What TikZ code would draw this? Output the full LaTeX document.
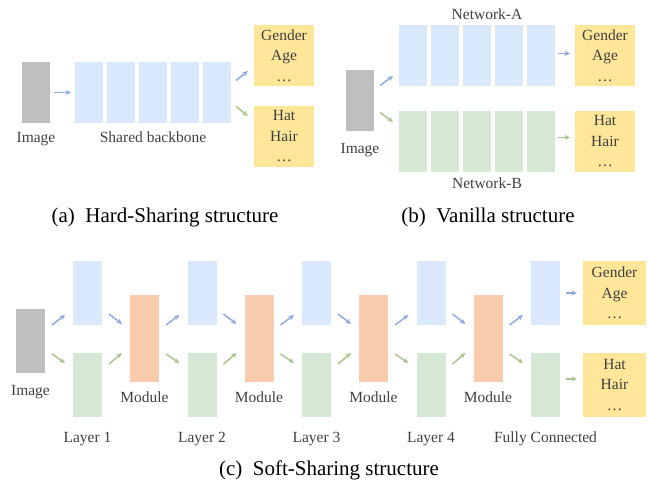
\documentclass[tikz,border=0pt]{standalone}
\usepackage{fontspec}
\setmainfont{Liberation Serif}
\usetikzlibrary{arrows.meta}
\usetikzlibrary{positioning}
\usetikzlibrary{calc}

\definecolor{imggray}{HTML}{BFBFBF}
\definecolor{layblue}{HTML}{DAE8FC}
\definecolor{laygreen}{HTML}{D5E8D4}
\definecolor{modorange}{HTML}{F8CBAD}
\definecolor{taskyellow}{HTML}{FFE699}
\definecolor{arrblue}{HTML}{8FAADC}
\definecolor{arrgreen}{HTML}{A9C48F}
\definecolor{txtgray}{HTML}{404040}

\tikzset{
  blk/.style={inner sep=0pt, outer sep=0pt, minimum width=28pt, minimum height=61pt},
  imgbox/.style={blk, fill=imggray},
  bluebox/.style={blk, fill=layblue},
  greenbox/.style={blk, fill=laygreen},
  modbox/.style={blk, fill=modorange, minimum width=29pt, minimum height=87pt},
  taskbox/.style={blk, fill=taskyellow, minimum width=60pt, align=center, text=txtgray,
    font=\fontsize{15.5}{20.5}\selectfont},
  lbl/.style={inner sep=0pt, text=txtgray, font=\fontsize{15.5}{18}\selectfont},
  captxt/.style={inner sep=0pt, font=\fontsize{21}{25}\selectfont},
  barr/.style={-{Stealth[length=5.5pt,width=5pt]}, draw=arrblue, line width=1.5pt},
  garr/.style={-{Stealth[length=5.5pt,width=5pt]}, draw=arrgreen, line width=1.5pt}
}

\begin{document}
\begin{tikzpicture}[x=1pt,y=-1pt]
    \useasboundingbox (0,0) rectangle (649,486);

    % (a) hard sharing
    \node[imgbox, anchor=north west] (imgA) at (22,62) {};
    \node[bluebox, anchor=north west] (bb1) at (75,62) {};
    \foreach \i/\j in {1/2,2/3,3/4,4/5}
        \node[bluebox, right=4pt of bb\i] (bb\j) {};
    \node[taskbox, anchor=north west] (tA1) at (254,25) {Gender\\Age\\\dots};
    \node[taskbox, anchor=north west] (tA2) at (254,106) {Hat\\Hair\\\dots};
    \node[lbl, below=9pt of imgA] (imgAl) {Image};
    \node[lbl, below=9pt of bb3] (bbl) {Shared backbone};
    \node[captxt] (capA) at (165,217) {(a)\enspace Hard-Sharing structure};
    \draw[barr, shorten <=4pt, shorten >=4pt] (imgA) -- (bb1);
    \draw[barr] ([xshift=5pt,yshift=12pt]bb5.east) -- ([xshift=-6pt,yshift=15pt]tA1.south west);
    \draw[garr] ([xshift=5pt,yshift=-14pt]bb5.east) -- ([xshift=-6pt,yshift=-10pt]tA2.north west);

    % (b) vanilla
    \node[imgbox, anchor=north west] (imgB) at (346,70) {};
    \node[bluebox, anchor=north west] (nA1) at (399,25) {};
    \node[greenbox, anchor=north west] (nB1) at (399,111) {};
    \foreach \i/\j in {1/2,2/3,3/4,4/5} {
        \node[bluebox, right=4pt of nA\i] (nA\j) {};
        \node[greenbox, right=4pt of nB\i] (nB\j) {};
    }
    \node[taskbox, anchor=north west] (tB1) at (575,25) {Gender\\Age\\\dots};
    \node[taskbox, anchor=north west] (tB2) at (575,111) {Hat\\Hair\\\dots};
    \node[lbl, above=5pt of nA3, xshift=10pt] (netA) {Network-A};
    \node[lbl, below=6pt of nB3, xshift=10pt] (netB) {Network-B};
    \node[lbl, below=12pt of imgB] (imgBl) {Image};
    \node[captxt] (capB) at (488,217) {(b)\enspace Vanilla structure};
    \draw[barr] ([xshift=6pt,yshift=15pt]imgB.east) -- ([xshift=-6pt,yshift=10pt]nA1.south west);
    \draw[garr] ([xshift=6pt,yshift=-12pt]imgB.east) -- ([xshift=-6pt,yshift=-11pt]nB1.north west);
    \draw[barr, shorten <=3pt, shorten >=5pt] ([yshift=2pt]nA5.east) -- ([yshift=2pt]tB1.west);
    \draw[garr, shorten <=3pt, shorten >=5pt] ([yshift=4pt]nB5.east) -- ([yshift=4pt]tB2.west);

    % (c) soft sharing
    \node[imgbox, minimum width=29pt, minimum height=64pt, anchor=north west] (imgC) at (16,309) {};
    \foreach \i/\x in {1/73,2/187.5,3/302,4/416.5,5/531} {
        \node[bluebox, minimum width=29pt, minimum height=64pt, anchor=north west] (la\i) at (\x,261) {};
        \node[greenbox, minimum width=29pt, minimum height=64pt, anchor=north west] (lb\i) at (\x,353) {};
    }
    \foreach \i/\x in {1/130,2/244.5,3/359,4/473.5} {
        \node[modbox, anchor=north west] (m\i) at (\x,295) {};
        \node[lbl, below=10pt of m\i] (ml\i) {Module};
        \node[lbl, below=15pt of lb\i] (ll\i) {Layer \i};
    }
    \node[lbl, below=15pt of lb5] (ll5) {Fully Connected};
    \node[lbl, below=12pt of imgC] (imgCl) {Image};
    \node[taskbox, minimum width=63pt, minimum height=64pt, anchor=north west] (tC1) at (583,261) {Gender\\Age\\\dots};
    \node[taskbox, minimum width=63pt, minimum height=64pt, anchor=north west] (tC2) at (583,353) {Hat\\Hair\\\dots};
    \node[captxt] (capC) at (329,470) {(c)\enspace Soft-Sharing structure};
    % into each layer
    \foreach \s/\t in {imgC/1,m1/2,m2/3,m3/4,m4/5} {
        \draw[barr] ($(\s.east |- la\t.south)+(7pt,0pt)$) -- ([xshift=-8pt,yshift=10pt]la\t.south west);
        \draw[garr] ($(\s.east |- lb\t.north)+(7pt,-1pt)$) -- ([xshift=-8pt,yshift=-10pt]lb\t.north west);
    }
    % into each module
    \foreach \i in {1,...,4} {
        \draw[barr] ([xshift=7pt,yshift=11pt]la\i.south east) -- ($(m\i.west |- la\i.south)+(-8pt,1pt)$);
        \draw[garr] ([xshift=7pt,yshift=-11pt]lb\i.north east) -- ($(m\i.west |- lb\i.north)+(-8pt,0pt)$);
    }
    \draw[barr, shorten <=6pt, shorten >=6pt] (la5) -- (tC1);
    \draw[garr, shorten <=6pt, shorten >=6pt] ([yshift=6pt]lb5.east) -- ([yshift=6pt]tC2.west);
\end{tikzpicture}
\end{document}
